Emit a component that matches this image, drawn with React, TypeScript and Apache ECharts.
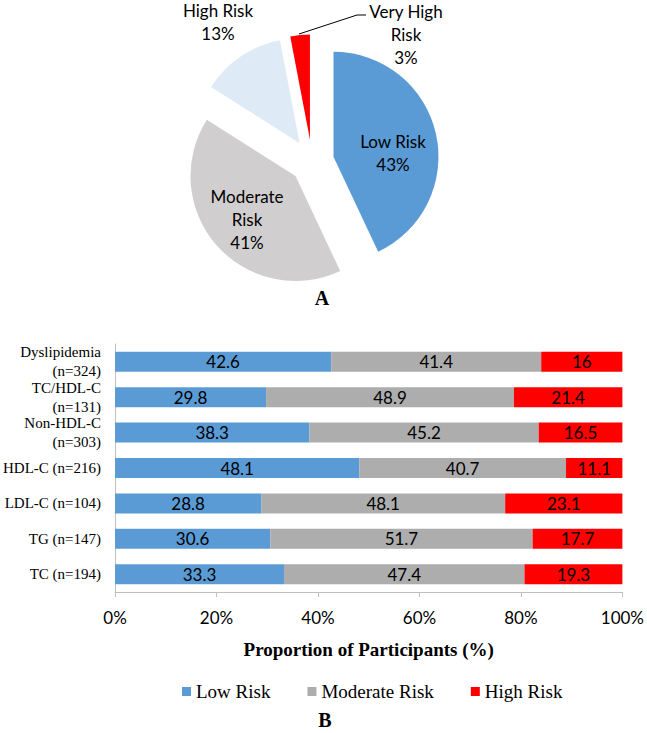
import React, { useEffect, useRef } from "react";
import * as echarts from "echarts";

// ---- Pie (A) data ----
const pieNames = ["Low Risk", "Moderate Risk", "High Risk", "Very High Risk"];
const pieLabelNames = ["Low Risk", "Moderate\nRisk", "High Risk", "Very High\nRisk"];
const pieValues = [43, 41, 13, 3];
const pieColors = ["#5B9BD5", "#D0CECE", "#DEEBF7", "#FF0000"];

// ---- Bar (B) data (bottom to top) ----
const categories = [
  "TC (n=194)",
  "TG (n=147)",
  "LDL-C (n=104)",
  "HDL-C (n=216)",
  "Non-HDL-C\n(n=303)",
  "TC/HDL-C\n(n=131)",
  "Dyslipidemia\n(n=324)",
];
const lowRisk = [33.3, 30.6, 28.8, 48.1, 38.3, 29.8, 42.6];
const moderateRisk = [47.4, 51.7, 48.1, 40.7, 45.2, 48.9, 41.4];
const highRisk = [19.3, 17.7, 23.1, 11.1, 16.5, 21.4, 16];
const seriesNames = ["Low Risk", "Moderate Risk", "High Risk"];
const barColors = ["#5B9BD5", "#ADADAD", "#FF0000"];
const xTicks = [0, 20, 40, 60, 80, 100];

// ---- layout / style (not data) ----
const pieCenter = [312, 161.5];
const pieRadius = 105;
const pieExplode = [22, 22, 22, 22];
const pieLabelPos = [
  { x: 393, y: 153 },
  { x: 247, y: 219 },
  { x: 218, y: 22 },
  { x: 406, y: 34 },
];
const veryHighLeader = [
  [299, 34],
  [357, 15],
  [366, 15],
];

export default function App() {
  const ref = useRef<HTMLDivElement>(null);
  useEffect(() => {
    if (!ref.current) return;
    const chart = echarts.init(ref.current, undefined, { renderer: "svg" });
    const rows = [lowRisk, moderateRisk, highRisk];
    const totals = categories.map((_, i) => lowRisk[i] + moderateRisk[i] + highRisk[i]);
    const sansFont = "Lato, 'Open Sans', sans-serif";
    const serifFont = "'Liberation Serif', 'Times New Roman', serif";

    const pieTotal = pieValues.reduce((a, b) => a + b, 0);
    let cum = 0;
    const pieSeries = pieValues.map((v, i) => {
      const mid = ((cum + v / 2) / pieTotal) * Math.PI * 2;
      cum += v;
      const d = pieExplode[i];
      const center = [pieCenter[0] + d * Math.sin(mid), pieCenter[1] - d * Math.cos(mid)];
      return {
        type: "pie",
        silent: true,
        center,
        radius: pieRadius,
        startAngle: 90,
        clockwise: true,
        avoidLabelOverlap: false,
        emphasis: { disabled: true },
        data: pieValues.map((vv, j) => ({
          name: pieNames[j],
          value: vv,
          itemStyle: {
            color: j === i ? pieColors[j] : "rgba(0,0,0,0)",
            borderWidth: 0,
          },
          label: {
            show: j === i,
            position: j < 2 ? "inside" : "outside",
          },
          labelLine: {
            show: j === i && j === 3,
            lineStyle: { color: "#000", width: 1 },
          },
        })),
        label: {
          fontFamily: sansFont,
          fontSize: 17,
          lineHeight: 23,
          color: "#000",
          align: "center",
          formatter: (p: any) => `${pieLabelNames[p.dataIndex]}\n${pieValues[p.dataIndex]}%`,
        },
        labelLayout: (p: any) => {
          const pos = pieLabelPos[p.dataIndex];
          const out: any = { x: pos.x, y: pos.y, align: "center", verticalAlign: "middle" };
          if (p.dataIndex === 3) out.labelLinePoints = veryHighLeader;
          return out;
        },
      };
    });

    chart.setOption({
      animation: false,
      legend: {
        data: seriesNames,
        left: 177,
        top: 677,
        icon: "rect",
        itemWidth: 9,
        itemHeight: 9,
        itemGap: 37,
        textStyle: { fontFamily: serifFont, fontSize: 19, color: "#000" },
      },
      grid: { left: 114, top: 344, width: 511, height: 248, containLabel: false },
      xAxis: {
        type: "value",
        min: 0,
        max: 100,
        interval: 20,
        name: "Proportion of Participants (%)",
        nameLocation: "middle",
        nameGap: 48,
        nameTextStyle: { fontFamily: serifFont, fontSize: 19, fontWeight: "bold", color: "#000" },
        axisLine: { show: true, lineStyle: { color: "#BFBFBF", width: 1 } },
        axisTick: { show: true, length: 5, lineStyle: { color: "#BFBFBF" } },
        splitLine: { show: false },
        axisLabel: {
          margin: 17,
          fontFamily: sansFont,
          fontSize: 17,
          color: "#000",
          formatter: (v: number) => (xTicks.includes(v) ? `${v}%` : ""),
        },
      },
      yAxis: {
        type: "category",
        data: categories,
        axisLine: { show: true, lineStyle: { color: "#BFBFBF", width: 1 } },
        axisTick: { show: false },
        axisLabel: {
          interval: 0,
          hideOverlap: false,
          margin: 14,
          fontFamily: serifFont,
          fontSize: 15,
          lineHeight: 19,
          color: "#000",
        },
      },
      series: [
        ...rows.map((vals, si) => ({
          name: seriesNames[si],
          type: "bar",
          stack: "total",
          barWidth: 20,
          data: vals.map((v, i) => (v / totals[i]) * 100),
          itemStyle: { color: barColors[si] },
          emphasis: { disabled: true },
          label: {
            show: true,
            position: "inside",
            color: "#000",
            fontFamily: sansFont,
            fontSize: 17,
            formatter: (p: any) => `${vals[p.dataIndex]}`,
          },
        })),
        ...pieSeries,
      ],
      graphic: [
        {
          type: "text",
          x: 322,
          y: 298,
          style: {
            text: "A",
            fontFamily: serifFont,
            fontSize: 20,
            fontWeight: "bold",
            fill: "#000",
            textAlign: "center",
            textVerticalAlign: "middle",
          },
        },
        {
          type: "text",
          x: 325,
          y: 720,
          style: {
            text: "B",
            fontFamily: serifFont,
            fontSize: 20,
            fontWeight: "bold",
            fill: "#000",
            textAlign: "center",
            textVerticalAlign: "middle",
          },
        },
      ],
    });
    return () => chart.dispose();
  }, []);
  return (
    <div
      ref={ref}
      style={{ position: "fixed", left: 0, top: 0, width: 647, height: 733, background: "#fff" }}
    />
  );
}
